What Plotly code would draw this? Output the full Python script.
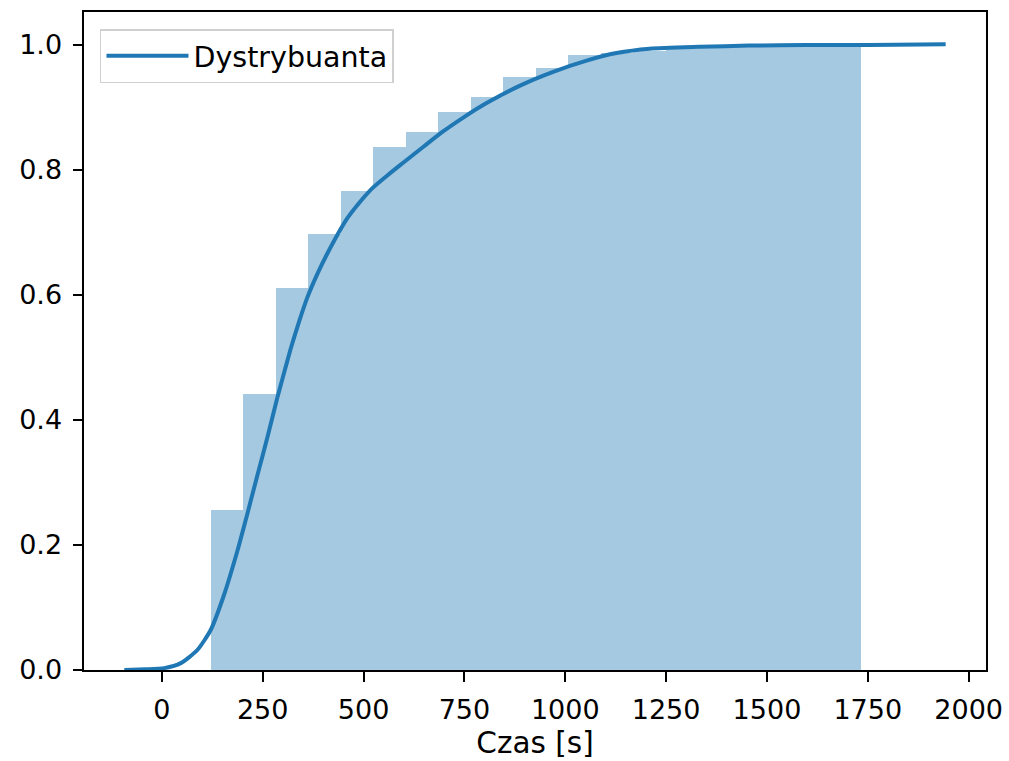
import plotly.graph_objects as go

# Cumulative histogram (bins of equal width)
bin_start = 121.0
bin_width = 80.6
bin_heights = [0.256, 0.441, 0.611, 0.697, 0.766, 0.837, 0.861, 0.892, 0.916, 0.949,
               0.963, 0.984, 0.987, 0.991, 0.994, 0.996, 0.997, 0.998, 0.999, 1.0]

# Smoothed cumulative distribution (KDE CDF)
cdf_x = [-93, -40, 6, 47, 88, 121, 154, 187, 212, 237, 262, 286, 319, 340, 360, 385,
         410, 459, 490, 522, 566, 599, 650, 698, 750, 805, 888, 970, 1053, 1127,
         1209, 1333, 1456, 1600, 1753, 1943]
cdf_y = [0.0, 0.001, 0.003, 0.011, 0.032, 0.064, 0.12, 0.19, 0.25, 0.312, 0.373, 0.435,
         0.513, 0.557, 0.595, 0.633, 0.666, 0.722, 0.748, 0.771, 0.795, 0.812, 0.838,
         0.862, 0.885, 0.907, 0.935, 0.957, 0.975, 0.987, 0.994, 0.997, 0.999, 1.0,
         1.0, 1.001]

x_ticks = [0, 250, 500, 750, 1000, 1250, 1500, 1750, 2000]
y_ticks = [0.0, 0.2, 0.4, 0.6, 0.8, 1.0]

bin_centers = [bin_start + bin_width * (i + 0.5) for i in range(len(bin_heights))]

fig = go.Figure()
fig.add_trace(go.Bar(
    x=bin_centers, y=bin_heights, width=[bin_width] * len(bin_heights),
    marker=dict(color="rgba(31,119,180,0.4)", line=dict(width=0)),
    showlegend=False, hoverinfo="skip",
))
fig.add_trace(go.Scatter(
    x=cdf_x, y=cdf_y, mode="lines", name="Dystrybuanta",
    line=dict(color="#1f77b4", width=4, shape="spline", smoothing=0.6),
))

TICK_FONT = dict(family="DejaVu Sans", size=27, color="black")

axis_common = dict(
    showgrid=False, zeroline=False, showline=True, mirror=True,
    linecolor="black", linewidth=2, ticks="outside", ticklen=9.5,
    tickwidth=2, tickcolor="black", tickfont=TICK_FONT, ticklabelstandoff=5,
)

fig.update_layout(
    width=1009, height=761,
    margin=dict(l=84, r=23, t=12, b=91, autoexpand=False),
    paper_bgcolor="white", plot_bgcolor="white",
    bargap=0,
    font=dict(family="DejaVu Sans", size=27, color="black"),
    xaxis=dict(range=[-193, 2043], tickmode="array", tickvals=x_ticks,
               ticktext=[str(v) for v in x_ticks],
               title=dict(text="Czas [s]", standoff=8,
                          font=dict(family="DejaVu Sans", size=29.5, color="black")),
               automargin=False, **axis_common),
    yaxis=dict(range=[0, 1.0527], tickmode="array", tickvals=y_ticks,
               ticktext=[f"{v:.1f}" for v in y_ticks], automargin=False,
               **axis_common),
    legend=dict(x=0.0177, y=0.974, xanchor="left", yanchor="top",
                bgcolor="rgba(255,255,255,0.8)", bordercolor="#d0d0d0", borderwidth=1.5,
                font=dict(family="DejaVu Sans", size=28.5, color="black"),
                itemwidth=82, tracegroupgap=0),
)

fig.write_html("out.html")
